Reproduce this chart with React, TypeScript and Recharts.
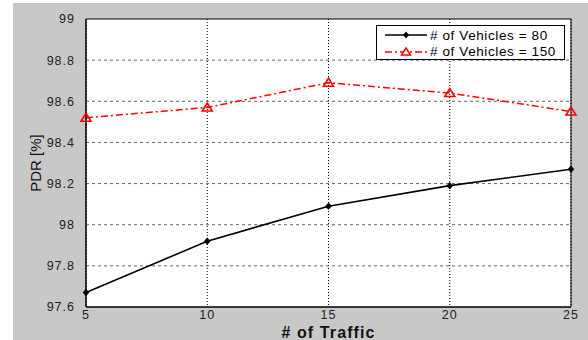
import React from 'react';
import { LineChart, Line, XAxis, YAxis, CartesianGrid, Legend, ReferenceArea, ReferenceLine } from 'recharts';

const traffic = [5, 10, 15, 20, 25];
const pdr80 = [97.67, 97.92, 98.09, 98.19, 98.27];
const pdr150 = [98.52, 98.57, 98.69, 98.64, 98.55];
const xTicks = [5, 10, 15, 20, 25];
const yTicks = [97.6, 97.8, 98, 98.2, 98.4, 98.6, 98.8, 99];
const seriesNames = ['# of Vehicles = 80', '# of Vehicles = 150'];

const data = traffic.map((t, i) => ({ t, v80: pdr80[i], v150: pdr150[i] }));

const FONT = '"Liberation Sans", Arial, sans-serif';

const Diamond = (props: any) => {
  const { cx, cy } = props;
  if (cx == null || cy == null) return null;
  return <path d={`M${cx},${cy - 3.5}L${cx + 3},${cy}L${cx},${cy + 3.5}L${cx - 3},${cy}Z`} fill="#000" stroke="#000" strokeWidth={0.5} />;
};

const Triangle = (props: any) => {
  const { cx, cy } = props;
  if (cx == null || cy == null) return null;
  return <path d={`M${cx},${cy - 4.5}L${cx + 5},${cy + 3.5}L${cx - 5},${cy + 3.5}Z`} fill="#fff" fillOpacity={0} stroke="#ff0000" strokeWidth={1.6} />;
};

const LegendContent = () => (
  <div style={{ background: '#fff', border: '1px solid #000', width: 189, height: 35, boxSizing: 'border-box', fontFamily: FONT, fontSize: 13.5, letterSpacing: 0.6, color: '#000', padding: '1px 0 0 6px' }}>
    <div style={{ display: 'flex', alignItems: 'center', height: 16 }}>
      <svg width={46} height={12}><line x1={2} y1={6} x2={44} y2={6} stroke="#000" strokeWidth={1.5} /><path d="M23,2.5L26,6L23,9.5L20,6Z" fill="#000" /></svg>
      <span style={{ marginLeft: 1 }}>{seriesNames[0]}</span>
    </div>
    <div style={{ display: 'flex', alignItems: 'center', height: 16 }}>
      <svg width={46} height={12}><line x1={2} y1={7} x2={44} y2={7} stroke="#ff0000" strokeWidth={1.5} strokeDasharray="7 3 2 3" /><path d="M23,3L27.5,10L18.5,10Z" fill="#fff" stroke="#ff0000" strokeWidth={1.5} /></svg>
      <span style={{ marginLeft: 1 }}>{seriesNames[1]}</span>
    </div>
  </div>
);

export default function App() {
  return (
    <div style={{ position: 'absolute', left: 0, top: 0, width: 588, height: 340, background: '#fff', overflow: 'hidden' }}>
      <div style={{ position: 'absolute', left: 13, top: 3, width: 575, height: 337, background: '#c8c8c8' }} />
      <div style={{ position: 'absolute', left: 86, top: 19, width: 485, height: 288, background: '#fff' }} />
      <div style={{ position: 'absolute', left: 0, top: 0 }}>
        <LineChart width={588} height={340} data={data} margin={{ top: 19, right: 17, left: 0, bottom: 0 }}>
          <CartesianGrid horizontal={false} vertical={true} stroke="#000" strokeDasharray="1 2" />
          {yTicks.slice(1, -1).map((v) => (
            <ReferenceLine key={v} y={v} stroke="#666" strokeDasharray="3 3" />
          ))}
          <XAxis
            dataKey="t"
            type="number"
            domain={[5, 25]}
            ticks={xTicks}
            height={33}
            axisLine={{ stroke: '#000' }}
            tickLine={false}
            tickSize={3}
            tickMargin={0}
            tick={{ fontFamily: FONT, fontSize: 12.5, letterSpacing: 1, fill: '#222' }}
            label={{ value: '# of Traffic', position: 'insideBottom', offset: 2, style: { fontFamily: FONT, fontSize: 16, fontWeight: 'bold', letterSpacing: 1.1, fill: '#111' } }}
          />
          <YAxis
            type="number"
            domain={[97.6, 99]}
            ticks={yTicks}
            width={86}
            axisLine={{ stroke: '#000' }}
            tickLine={false}
            tickMargin={5}
            interval={0}
            tick={{ fontFamily: FONT, fontSize: 12.5, letterSpacing: 1, fill: '#222' }}
            label={{ value: 'PDR [%]', angle: -90, position: 'insideLeft', offset: 36, style: { fontFamily: FONT, fontSize: 15, fill: '#111', textAnchor: 'middle' } }}
          />
          <ReferenceArea x1={5} x2={25} y1={97.6} y2={99} fill="none" stroke="#000" strokeWidth={1} ifOverflow="visible" />
          <Line dataKey="v80" name={seriesNames[0]} stroke="#000" strokeWidth={1.6} dot={<Diamond />} activeDot={false} isAnimationActive={false} />
          <Line dataKey="v150" name={seriesNames[1]} stroke="#ff0000" strokeWidth={1.5} strokeDasharray="7 3 2 3" dot={<Triangle />} activeDot={false} isAnimationActive={false} />
          <Legend layout="horizontal" verticalAlign="middle" align="center" wrapperStyle={{ top: 25, left: 376, width: 189 }} content={<LegendContent />} />
        </LineChart>
      </div>
    </div>
  );
}
